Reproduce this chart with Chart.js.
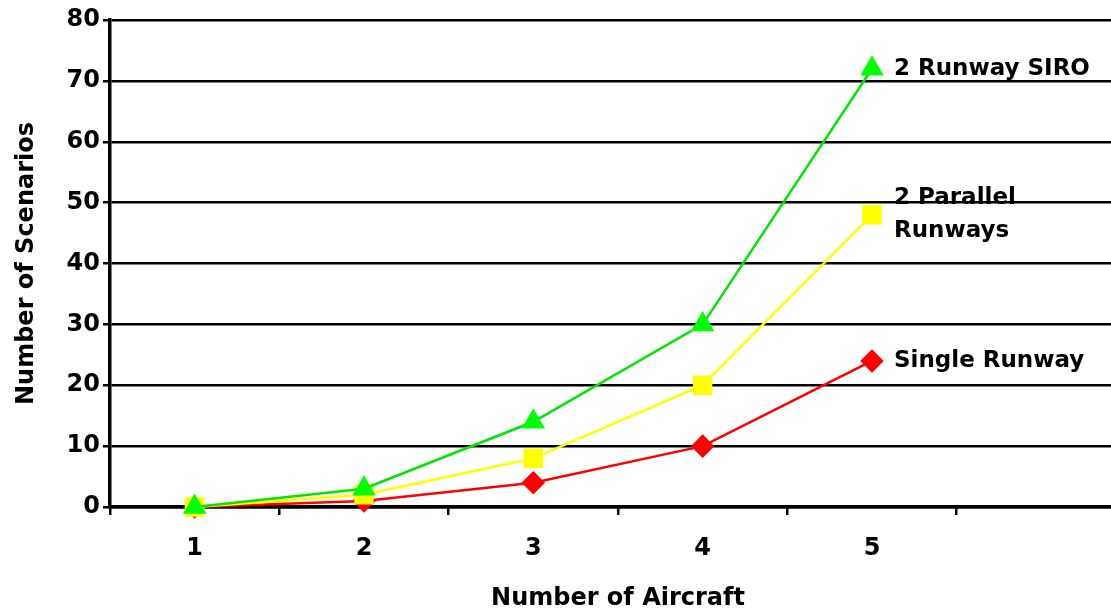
<!DOCTYPE html>
<html>
<head>
<meta charset="utf-8">
<script src="https://cdn.jsdelivr.net/npm/chart.js@4/dist/chart.umd.min.js"></script>
<style>
  html, body { margin: 0; padding: 0; background: #fff; overflow: hidden; }
  #wrap { width: 1150px; height: 614px; }
</style>
</head>
<body>
<div id="wrap"><canvas id="scenarioChart"></canvas></div>
<script>
// categories (6th slot is empty in the original)
const aircraft = ['1', '2', '3', '4', '5', ''];
const siro = [0, 3, 14, 30, 72];
const parallel = [0, 2, 8, 20, 48];
const single = [0, 1, 4, 10, 24];
const seriesNames = [['2 Runway SIRO'], ['2 Parallel', 'Runways'], ['Single Runway']];

const FONT = { family: '"DejaVu Sans", sans-serif', size: 24, weight: 'bold' };

// series names written next to the last point of each line
const endLabels = {
  id: 'endLabels',
  afterDatasetsDraw(chart) {
    const ctx = chart.ctx;
    const x = chart.scales.x;
    const y = chart.scales.y;
    ctx.save();
    ctx.fillStyle = '#000';
    ctx.font = 'bold 23px "DejaVu Sans", sans-serif';
    ctx.textAlign = 'left';
    ctx.textBaseline = 'middle';
    chart.data.datasets.forEach((ds, i) => {
      const last = ds.data.length - 1;
      const px = x.getPixelForValue(last) + 22;
      const py = y.getPixelForValue(ds.data[last]);
      const lines = seriesNames[i];
      const lh = 33;
      lines.forEach((t, j) => {
        ctx.fillText(t, px, py + (j - (lines.length - 1) / 2) * lh);
      });
    });
    ctx.restore();
  }
};

new Chart(document.getElementById('scenarioChart'), {
  type: 'line',
  data: {
    labels: aircraft,
    datasets: [
      {
        label: '2 Runway SIRO',
        data: siro,
        borderColor: '#00E600',
        backgroundColor: '#00FF00',
        pointBorderColor: '#00FF00',
        pointStyle: 'triangle',
        pointRadius: 11,
        borderWidth: 2.5,
        clip: false
      },
      {
        label: '2 Parallel Runways',
        data: parallel,
        borderColor: '#FFFF00',
        backgroundColor: '#FFFF00',
        pointStyle: 'rect',
        pointRadius: 12,
        borderWidth: 2.5,
        clip: false
      },
      {
        label: 'Single Runway',
        data: single,
        borderColor: '#FF0000',
        backgroundColor: '#FF0000',
        pointStyle: 'rectRot',
        pointRadius: 10,
        borderWidth: 2.5,
        clip: false
      }
    ]
  },
  options: {
    responsive: true,
    maintainAspectRatio: false,
    animation: false,
    layout: { padding: { top: 20, right: 24, bottom: 0, left: 0 } },
    plugins: {
      legend: { display: false },
      tooltip: { enabled: false }
    },
    elements: { line: { tension: 0 }, point: { borderWidth: 1 } },
    scales: {
      x: {
        offset: true,
        afterFit: (s) => { s.height = 107; },
        grid: {
          offset: true,
          drawOnChartArea: false,
          drawTicks: true,
          tickLength: 8,
          color: '#000',
          lineWidth: 2.5
        },
        border: { color: '#000', width: 3.5 },
        ticks: { color: '#000', font: FONT, padding: 19, maxRotation: 0 },
        title: {
          display: true,
          text: 'Number of Aircraft',
          color: '#000',
          font: FONT,
          padding: { top: 0, bottom: 1 }
        }
      },
      y: {
        min: 0,
        max: 80,
        afterFit: (s) => { s.width = 110; },
        grid: {
          color: '#000',
          lineWidth: 2.5,
          drawTicks: true,
          tickLength: 7
        },
        border: { color: '#000', width: 3.5 },
        ticks: { stepSize: 10, color: '#000', font: FONT, padding: 3 },
        title: {
          display: true,
          text: 'Number of Scenarios',
          color: '#000',
          font: FONT,
          padding: { top: 12, bottom: 0 }
        }
      }
    }
  },
  plugins: [endLabels]
});
</script>
</body>
</html>
